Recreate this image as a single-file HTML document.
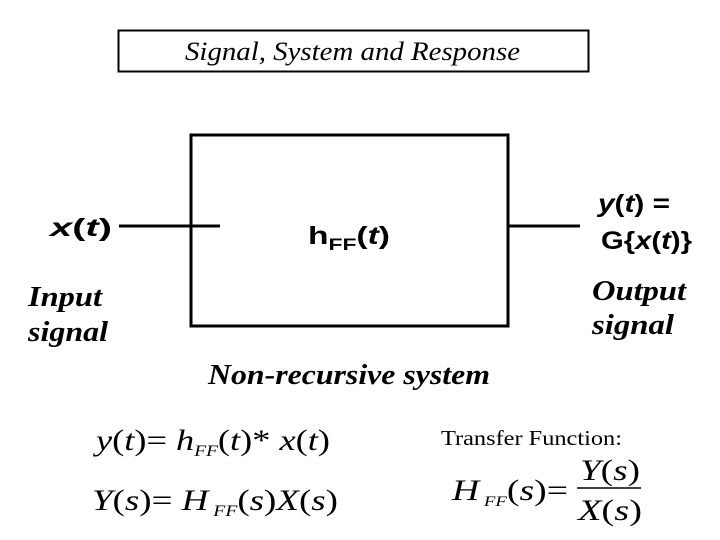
<!DOCTYPE html>
<html><head><style>html,body{margin:0;padding:0;background:#fff}</style></head>
<body>
<svg width="720" height="540" xmlns="http://www.w3.org/2000/svg" style="display:block">
<rect x="118.5" y="30.5" width="470" height="41" fill="none" stroke="#000" stroke-width="2"/>
<text x="185" y="60" font-family="Liberation Serif" font-style="italic" font-size="26" textLength="335" lengthAdjust="spacingAndGlyphs">Signal, System and Response</text>
<rect x="191" y="135" width="317" height="191" fill="none" stroke="#000" stroke-width="3"/>
<line x1="119" y1="226" x2="220" y2="226" stroke="#000" stroke-width="3"/>
<line x1="508" y1="226" x2="580" y2="226" stroke="#000" stroke-width="3"/>
<g font-family="Liberation Sans" font-weight="bold" font-size="25">
<text x="50" y="236" textLength="62" lengthAdjust="spacingAndGlyphs"><tspan font-style="italic">x</tspan>(<tspan font-style="italic">t</tspan>)</text>
<text x="308" y="244" textLength="82" lengthAdjust="spacingAndGlyphs">h<tspan font-size="17" dy="6">FF</tspan><tspan dy="-6">(</tspan><tspan font-style="italic">t</tspan>)</text>
<text x="598" y="212" textLength="72" lengthAdjust="spacingAndGlyphs"><tspan font-style="italic">y</tspan>(<tspan font-style="italic">t</tspan>) =</text>
<text x="601" y="249" textLength="91" lengthAdjust="spacingAndGlyphs">G{<tspan font-style="italic">x</tspan>(<tspan font-style="italic">t</tspan>)}</text>
</g>
<g font-family="Liberation Serif" font-weight="bold" font-style="italic" font-size="28">
<text x="28" y="306" textLength="74" lengthAdjust="spacingAndGlyphs">Input</text>
<text x="28" y="341" textLength="80" lengthAdjust="spacingAndGlyphs">signal</text>
<text x="592" y="300" textLength="94" lengthAdjust="spacingAndGlyphs">Output</text>
<text x="592" y="334" textLength="82" lengthAdjust="spacingAndGlyphs">signal</text>
<text x="208" y="384" textLength="282" lengthAdjust="spacingAndGlyphs">Non-recursive system</text>
</g>
<g font-family="Liberation Serif" font-size="30">
<text x="96" y="450" textLength="234" lengthAdjust="spacingAndGlyphs"><tspan font-style="italic">y</tspan>(<tspan font-style="italic">t</tspan>)= <tspan font-style="italic">h</tspan><tspan font-style="italic" font-size="16" dy="6">FF</tspan><tspan dy="-6">(</tspan><tspan font-style="italic">t</tspan>)* <tspan font-style="italic">x</tspan>(<tspan font-style="italic">t</tspan>)</text>
<text x="92" y="510" textLength="246" lengthAdjust="spacingAndGlyphs"><tspan font-style="italic">Y</tspan>(<tspan font-style="italic">s</tspan>)= <tspan font-style="italic">H</tspan><tspan font-style="italic" font-size="16" dy="6"> FF</tspan><tspan dy="-6">(</tspan><tspan font-style="italic">s</tspan>)<tspan font-style="italic">X</tspan>(<tspan font-style="italic">s</tspan>)</text>
<text x="452" y="500" textLength="116" lengthAdjust="spacingAndGlyphs"><tspan font-style="italic">H</tspan><tspan font-style="italic" font-size="15" dy="6"> FF</tspan><tspan dy="-6">(</tspan><tspan font-style="italic">s</tspan>)=</text>
<text x="580" y="480" textLength="60" lengthAdjust="spacingAndGlyphs"><tspan font-style="italic">Y</tspan>(<tspan font-style="italic">s</tspan>)</text>
<text x="578" y="520" textLength="64" lengthAdjust="spacingAndGlyphs"><tspan font-style="italic">X</tspan>(<tspan font-style="italic">s</tspan>)</text>
</g>
<line x1="577" y1="488" x2="641" y2="488" stroke="#000" stroke-width="1.5"/>
<text x="441" y="445" font-family="Liberation Serif" font-size="21" textLength="181" lengthAdjust="spacingAndGlyphs">Transfer Function:</text>
</svg>
</body></html>
